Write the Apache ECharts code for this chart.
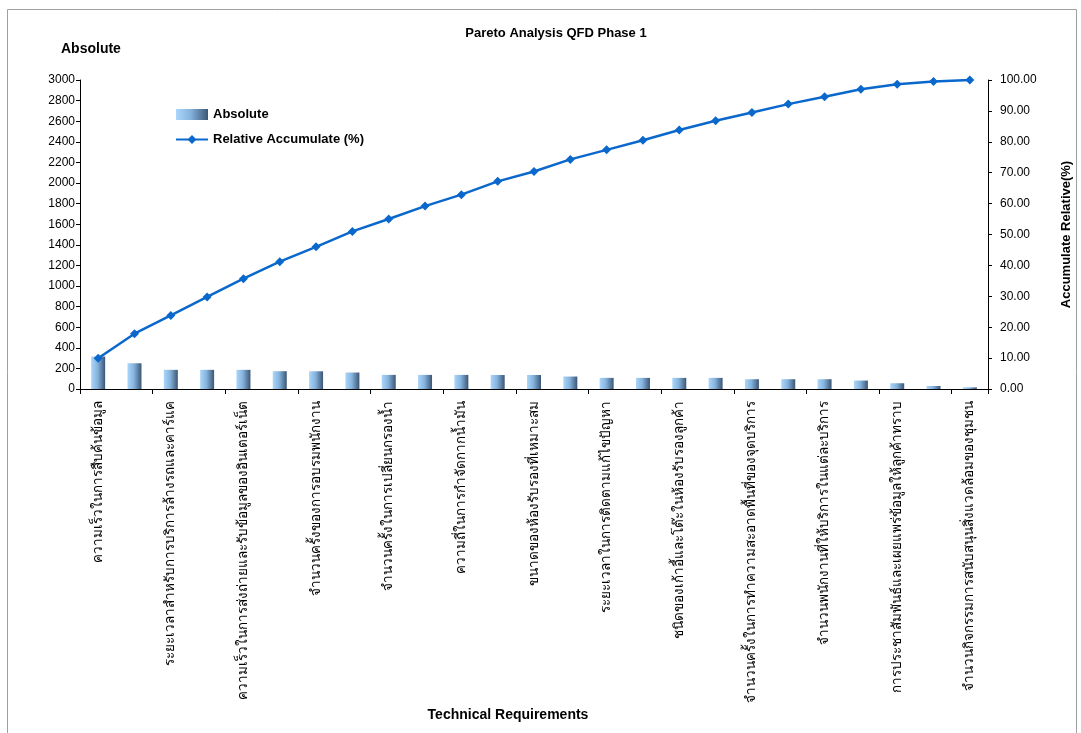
<!DOCTYPE html>
<html>
<head>
<meta charset="utf-8">
<title>Pareto Analysis QFD Phase 1</title>
<script src="https://cdn.jsdelivr.net/npm/echarts@6/dist/echarts.min.js"></script>
<style>
  html, body { margin: 0; padding: 0; background: #ffffff; }
  #chart { width: 1081px; height: 733px; }
</style>
</head>
<body>
<div id="chart"></div>
<script>
// Technical requirements, in Pareto order (only every other one is labelled on the axis)
const categories = [
  'ความเร็วในการสืบค้นข้อมูล', '',
  'ระยะเวลาสำหรับการบริการล้างรถและคาร์แค', '',
  'ความเร็วในการส่งถ่ายและรับข้อมูลของอินเตอร์เน็ต', '',
  'จำนวนครั้งของการอบรมพนักงาน', '',
  'จำนวนครั้งในการเปลี่ยนกรองน้ำ', '',
  'ความถี่ในการกำจัดกากน้ำมัน', '',
  'ขนาดของห้องรับรองที่เหมาะสม', '',
  'ระยะเวลาในการติดตามแก้ไขปัญหา', '',
  'ชนิดของเก้าอี้และโต๊ะในห้องรับรองลูกค้า', '',
  'จำนวนครั้งในการทำความสะอาดพื้นที่ของจุดบริการ', '',
  'จำนวนพนักงานที่ให้บริการในแต่ละบริการ', '',
  'การประชาสัมพันธ์และเผยแพร่ข้อมูลให้ลูกค้าทราบ', '',
  'จำนวนกิจกรรมการสนับสนุนสิ่งแวดล้อมของชุมชน'
];

// Absolute importance of each requirement
const absoluteValues = [
  315, 250, 186, 186, 186, 173, 172, 160, 137, 137, 137, 136, 136,
  121, 108, 108, 108, 108, 95, 95, 95, 82, 56, 29, 16
];

// Relative accumulated importance (%)
const accumulatePct = [
  9.97, 17.9, 23.8, 29.8, 35.7, 41.2, 46.0, 51.0, 55.0, 59.2, 62.9, 67.2, 70.4,
  74.3, 77.4, 80.5, 83.8, 86.8, 89.5, 92.2, 94.6, 97.0, 98.6, 99.5, 100.0
];

const absoluteAxis = { min: 0, max: 3000, interval: 200 };
const percentAxis = { min: 0, max: 100, interval: 10 };

const FONT = '"Liberation Sans", Arial, sans-serif';
const THAI_FONT = 'Tahoma, "DejaVu Sans", "Liberation Sans", sans-serif';

const barGradient = {
  type: 'linear', x: 0, y: 0, x2: 1, y2: 0,
  colorStops: [
    { offset: 0, color: '#acd6fa' },
    { offset: 0.45, color: '#86b4de' },
    { offset: 1, color: '#3c5675' }
  ]
};

const axisLineStyle = { color: '#000000', width: 1 };

const chart = echarts.init(document.getElementById('chart'), null, { renderer: 'canvas' });

chart.setOption({
  backgroundColor: '#ffffff',
  animation: false,
  title: [
    {
      text: 'Pareto Analysis QFD Phase 1',
      left: 551, top: 22, textAlign: 'center',
      textStyle: { fontFamily: FONT, fontSize: 13, fontWeight: 'bold', color: '#000' }
    },
    {
      text: 'Absolute',
      left: 56, top: 37,
      textStyle: { fontFamily: FONT, fontSize: 14, fontWeight: 'bold', color: '#000' }
    }
  ],
  graphic: [
    {
      type: 'rect', silent: true,
      shape: { x: 7.5, y: 9.5, width: 1069, height: 740 },
      style: { fill: 'none', stroke: '#a0a0a0', lineWidth: 1 }
    }
  ],
  legend: {
    orient: 'vertical',
    left: 170, top: 103,
    itemWidth: 32, itemHeight: 11, itemGap: 12,
    textStyle: { fontFamily: FONT, fontSize: 13, fontWeight: 'bold', color: '#000' },
    data: [
      { name: 'Absolute', icon: 'rect' },
      { name: 'Relative Accumulate (%)' }
    ]
  },
  grid: { left: 80, right: 92, top: 80, bottom: 344, containLabel: false },
  xAxis: {
    type: 'category',
    data: categories,
    boundaryGap: true,
    name: 'Technical Requirements',
    nameLocation: 'middle',
    nameGap: 319,
    nameTextStyle: { fontFamily: FONT, fontSize: 14, fontWeight: 'bold', color: '#000', padding: [0, 52, 0, 0] },
    axisLine: { lineStyle: axisLineStyle },
    axisTick: { show: true, length: 5, lineStyle: axisLineStyle },
    axisLabel: {
      interval: 1, rotate: 90, margin: 12,
      fontFamily: THAI_FONT, fontSize: 13.5, color: '#000'
    },
    splitLine: { show: false }
  },
  yAxis: [
    {
      type: 'value',
      min: absoluteAxis.min, max: absoluteAxis.max, interval: absoluteAxis.interval,
      axisLine: { show: true, lineStyle: axisLineStyle },
      axisTick: { show: true, length: 4, lineStyle: axisLineStyle },
      axisLabel: { fontFamily: FONT, fontSize: 12, color: '#000', margin: 5, formatter: v => String(v) },
      splitLine: { show: false }
    },
    {
      type: 'value',
      position: 'right',
      min: percentAxis.min, max: percentAxis.max, interval: percentAxis.interval,
      name: 'Accumulate Relative(%)',
      nameLocation: 'middle',
      nameRotate: 90,
      nameGap: 72,
      nameTextStyle: { fontFamily: FONT, fontSize: 13, fontWeight: 'bold', color: '#000' },
      axisLine: { show: true, lineStyle: axisLineStyle },
      axisTick: { show: true, length: 4, lineStyle: axisLineStyle },
      axisLabel: {
        fontFamily: FONT, fontSize: 12, color: '#000', margin: 12,
        formatter: v => v.toFixed(2)
      },
      splitLine: { show: false }
    }
  ],
  series: [
    {
      name: 'Absolute',
      type: 'bar',
      yAxisIndex: 0,
      data: absoluteValues,
      barWidth: 14,
      itemStyle: { color: barGradient }
    },
    {
      name: 'Relative Accumulate (%)',
      type: 'line',
      yAxisIndex: 1,
      data: accumulatePct,
      symbol: 'diamond',
      symbolSize: 9,
      lineStyle: { color: '#0a68cc', width: 2.5 },
      itemStyle: { color: '#0a68cc' },
      z: 5
    }
  ]
});
</script>
</body>
</html>
